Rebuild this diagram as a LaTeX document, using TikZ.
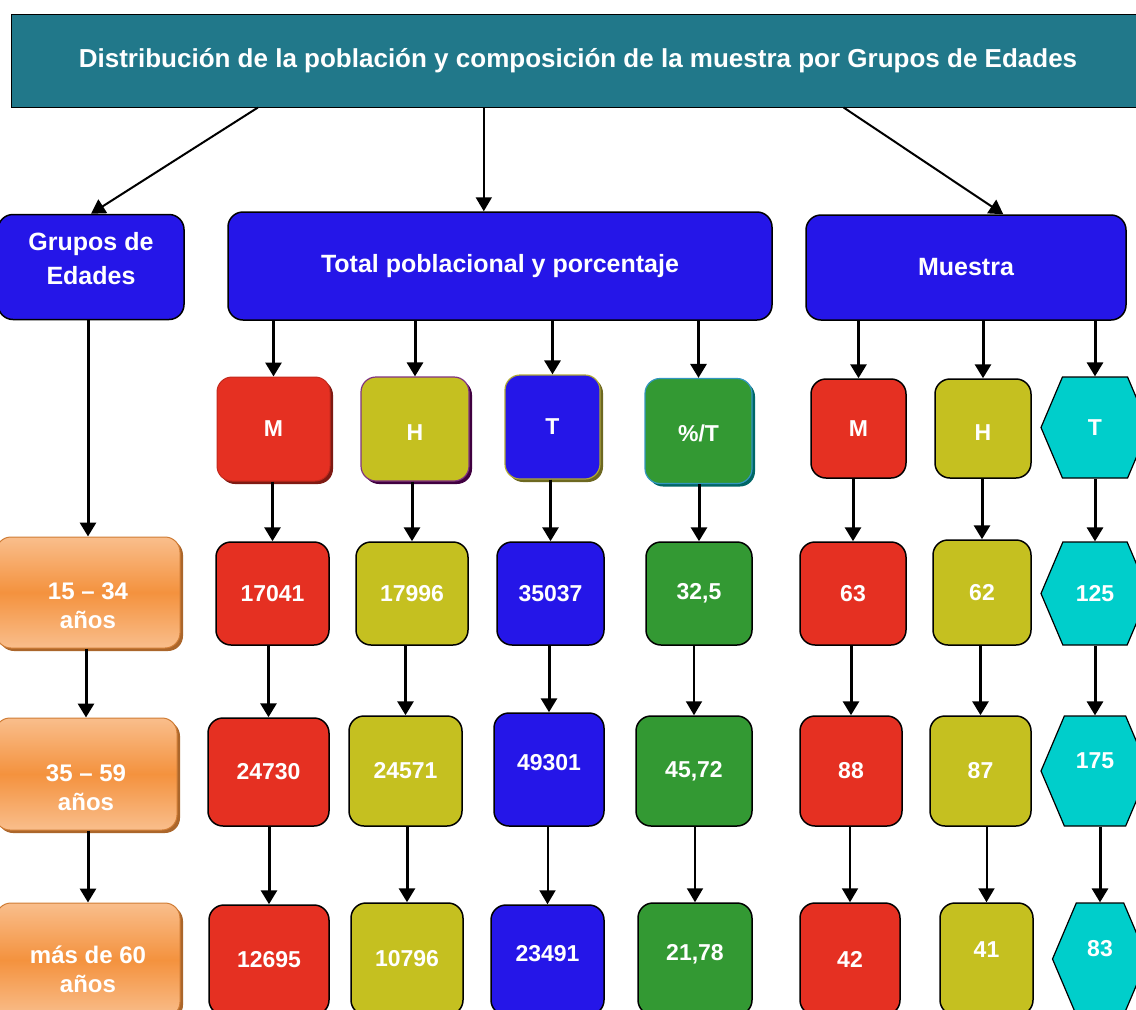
\documentclass[tikz,border=0pt]{standalone}
\usepackage{fontspec}
\setmainfont{Liberation Sans}
\usetikzlibrary{arrows.meta,calc,shapes.symbols,shadows}

\definecolor{titleteal}{RGB}{33,120,138}
\definecolor{hdrblue}{RGB}{37,22,232}
\definecolor{cred}{RGB}{229,48,34}
\definecolor{colive}{RGB}{197,192,32}
\definecolor{cgreen}{RGB}{51,153,51}
\definecolor{ccyan}{RGB}{0,206,203}
\definecolor{corange}{RGB}{244,146,62}
\definecolor{corangelt}{RGB}{249,190,140}

\newcommand{\lift}[2]{\raisebox{#1}[\height][\depth]{\begin{tabular}{@{}c@{}}#2\end{tabular}}}

\tikzstyle{title}=[shape=rectangle,draw=black,line width=1pt,fill=titleteal,text=white,
  minimum width=1134pt,minimum height=93pt,font=\fontsize{26}{30}\selectfont\bfseries]
\tikzstyle{box}=[shape=rectangle,rounded corners=15pt,draw=black,line width=1.5pt,text=white,
  inner sep=0pt,align=center,font=\fontsize{23}{29}\selectfont\bfseries]
\tikzstyle{head}=[box,fill=hdrblue,font=\fontsize{25}{34}\selectfont\bfseries]
\tikzstyle{age}=[box,draw=corange!85!black,line width=1pt,top color=corangelt,bottom color=corangelt,
  middle color=corange,drop shadow={shadow xshift=3pt,shadow yshift=-3pt,fill=corange!70!black,opacity=1},
  font=\fontsize{24}{29}\selectfont\bfseries]
\tikzstyle{hexa}=[shape=signal,signal to=west and east,signal pointer angle=134,draw=black,line width=1.2pt,
  fill=ccyan,text=white,inner sep=0pt,font=\fontsize{23}{29}\selectfont\bfseries]
\tikzstyle{arr}=[-{Triangle[width=16pt,length=14pt]},line width=3pt]
\tikzstyle{thinarr}=[arr,line width=2pt]

\begin{document}
\begin{tikzpicture}[x=1pt,y=-1pt]
    \useasboundingbox (0,0) rectangle (1136,1010);
    \clip (0,0) rectangle (1136,1010);
    % title
    \node[title] (top) at (578,60.5) {Distribución de la población y composición de la muestra por Grupos de Edades};
    % headers
    \node[head,minimum width=186pt,minimum height=105pt] (grp) at (91,267) {\lift{6pt}{Grupos de\\Edades}};
    \node[head,minimum width=544pt,minimum height=108pt] (tot) at (500,266) {Total poblacional y porcentaje};
    \node[head,minimum width=320pt,minimum height=105pt] (mue) at (966,267.5) {Muestra};
    % column heads
    \node[box,fill=cred,draw=cred!85!black,line width=1pt,minimum width=113pt,minimum height=104pt,
      drop shadow={shadow xshift=3pt,shadow yshift=-3pt,fill=cred!55!black,opacity=1}] (hM) at (273.5,429) {M};
    \node[box,fill=colive,draw=violet!60!gray,line width=1.2pt,minimum width=108pt,minimum height=104pt,
      drop shadow={shadow xshift=3pt,shadow yshift=-3pt,fill=violet!50!black,opacity=1}] (hH) at (415,429) {\lift{-6pt}{H}};
    \node[box,fill=hdrblue,draw=olive!70,line width=1.2pt,minimum width=95pt,minimum height=104pt,
      drop shadow={shadow xshift=3pt,shadow yshift=-3pt,fill=olive!70!black,opacity=1}] (hT) at (552.5,427) {T};
    \node[box,fill=cgreen,draw=cyan!50!teal,line width=1.2pt,minimum width=107pt,minimum height=105pt,
      drop shadow={shadow xshift=3pt,shadow yshift=-3pt,fill=teal!80!black,opacity=1}] (hP) at (698.5,431) {\lift{-5pt}{\%/T}};
    \node[box,fill=cred,minimum width=95pt,minimum height=99pt] (sM) at (858.5,428.5) {M};
    \node[box,fill=colive,minimum width=96pt,minimum height=99pt] (sH) at (983,428.5) {\lift{-6pt}{H}};
    \node[hexa,minimum width=108pt,minimum height=101pt] (sT) at (1095,427.5) {T};
    % 15 - 34
    \node[age,minimum width=184pt,minimum height=111pt] (g1) at (88,592.5) {\lift{-16pt}{15 – 34\\años}};
    \node[box,fill=cred,minimum width=113pt,minimum height=103pt] (r1) at (272.5,593.5) {17041};
    \node[box,fill=colive,minimum width=112pt,minimum height=103pt] (o1) at (412,593.5) {17996};
    \node[box,fill=hdrblue,minimum width=107pt,minimum height=103pt] (b1) at (550.5,593.5) {35037};
    \node[box,fill=cgreen,minimum width=106pt,minimum height=103pt] (p1) at (699,593.5) {32,5};
    \node[box,fill=cred,minimum width=106pt,minimum height=103pt] (m1) at (853,593.5) {63};
    \node[box,fill=colive,minimum width=98pt,minimum height=105pt] (n1) at (982,592.5) {62};
    \node[hexa,minimum width=108pt,minimum height=103pt] (t1) at (1095,593.5) {125};
    % 35 - 59
    \node[age,minimum width=182pt,minimum height=112pt] (g2) at (86,774) {\lift{-16pt}{35 – 59\\años}};
    \node[box,fill=cred,minimum width=121pt,minimum height=108pt] (r2) at (268.5,772) {24730};
    \node[box,fill=colive,minimum width=113pt,minimum height=110pt] (o2) at (405.5,771) {24571};
    \node[box,fill=hdrblue,minimum width=110pt,minimum height=113pt] (b2) at (549,769.5) {\lift{5pt}{49301}};
    \node[box,fill=cgreen,minimum width=116pt,minimum height=110pt] (p2) at (694,771) {45,72};
    \node[box,fill=cred,minimum width=102pt,minimum height=110pt] (m2) at (851,771) {88};
    \node[box,fill=colive,minimum width=101pt,minimum height=110pt] (n2) at (980.5,771) {87};
    \node[hexa,minimum width=108pt,minimum height=110pt] (t2) at (1095,771) {\lift{8pt}{175}};
    % mas de 60
    \node[age,minimum width=184pt,minimum height=114pt] (g3) at (88,960) {\lift{-12pt}{más de 60\\años}};
    \node[box,fill=cred,minimum width=120pt,minimum height=110pt] (r3) at (269,960) {12695};
    \node[box,fill=colive,minimum width=112pt,minimum height=112pt] (o3) at (407,959) {10796};
    \node[box,fill=hdrblue,minimum width=113pt,minimum height=110pt] (b3) at (547.5,960) {\lift{4pt}{23491}};
    \node[box,fill=cgreen,minimum width=114pt,minimum height=112pt] (p3) at (695,959) {\lift{4pt}{21,78}};
    \node[box,fill=cred,minimum width=100pt,minimum height=112pt] (m3) at (850,959) {42};
    \node[box,fill=colive,minimum width=93pt,minimum height=112pt] (n3) at (986.5,959) {\lift{7pt}{41}};
    \node[hexa,minimum width=95pt,minimum height=112pt] (t3) at (1100,959) {\lift{8pt}{83}};
    % arrows
    \coordinate (ta) at ($(top.south west)!0.218!(top.south east)$);
    \coordinate (tb) at ($(top.south west)!0.417!(top.south east)$);
    \coordinate (tc) at ($(top.south west)!0.734!(top.south east)$);
    \draw[thinarr] (ta) -- (grp.north);
    \draw[thinarr] (tb) -- (tb |- tot.north);
    \draw[thinarr] (tc) -- ($(mue.north west)!0.616!(mue.north east)$);
    \draw[arr] (grp.south -| g1.north) -- (g1.north);
    \foreach \n in {hM,hH,hT,hP}
        \draw[arr] (tot.south -| \n.north) -- (\n.north);
    \foreach \n in {sM,sH,sT}
        \draw[arr] (mue.south -| \n.north) -- (\n.north);
    \foreach \a/\b in {g1/g2,g2/g3,hM/r1,r1/r2,r2/r3,hH/o1,o1/o2,o2/o3,hT/b1,b1/b2,hP/p1,
                      sM/m1,m1/m2,sH/n1,n1/n2,sT/t1,t1/t2,t2/t3}
        \draw[arr] (\a.south -| \b.north) -- (\b.north);
    \foreach \a/\b in {b2/b3,p1/p2,p2/p3,m2/m3,n2/n3}
        \draw[thinarr] (\a.south -| \b.north) -- (\b.north);
\end{tikzpicture}
\end{document}
